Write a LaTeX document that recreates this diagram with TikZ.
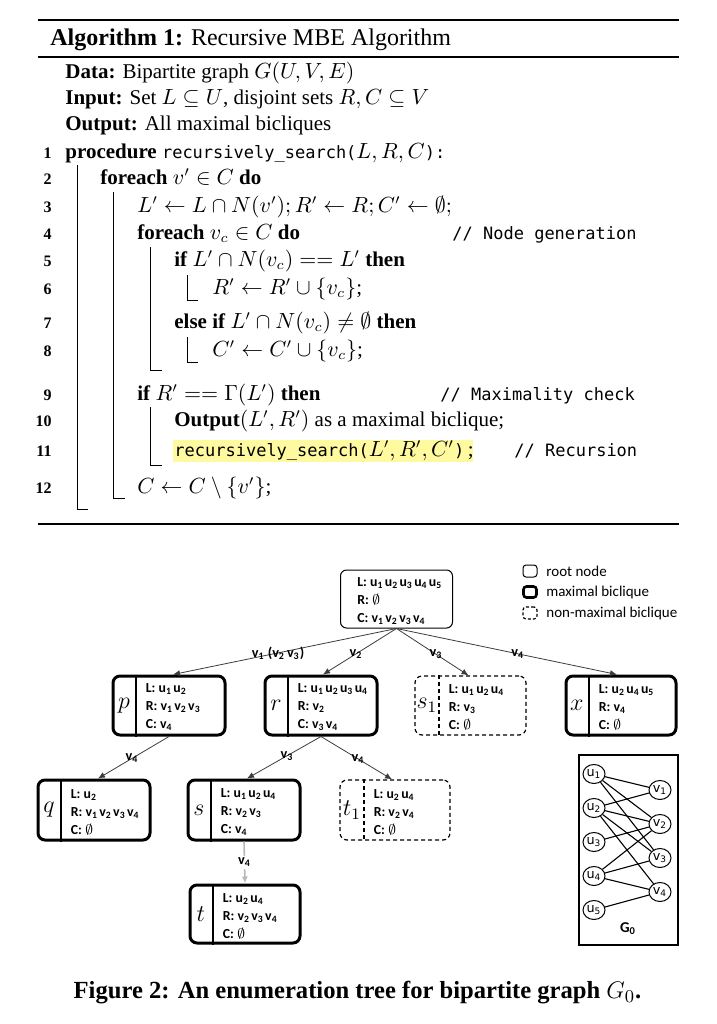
\documentclass[tikz,border=0pt]{standalone}
\usepackage{fontspec}
\setmainfont{Liberation Serif}
\newfontfamily\cali{Carlito}
\newfontfamily\monof{DejaVu Sans Mono}
\newfontfamily\dvs{DejaVu Sans}
\usetikzlibrary{arrows.meta,shapes.geometric}
\definecolor{hl}{RGB}{255,250,160}
\definecolor{edgec}{RGB}{60,60,60}
\newcommand\ssub[1]{\textsubscript{#1}}
\newcommand\U[1]{u\textsubscript{#1}\kern0.7pt}
\newcommand\V[1]{v\textsubscript{#1}\kern0.7pt}
\newcommand\mt[1]{{\monof\fontsize{8.5}{10}\selectfont #1}}
\newcommand\infofont{\cali\bfseries\fontsize{6.9}{9}\selectfont}
\newcommand\bnode[8]{%
  \node[#2, minimum width=#5*0.5pt, minimum height=#6*0.5pt] (#1) at (#3,#4) {};
  \draw[#2 div] ([xshift=12.3pt]#1.north west) -- ([xshift=12.3pt]#1.south west);
  \node[letter] (#1-l) at ([xshift=6.2pt]#1.west) {$#7$};
  \node[info] (#1-t) at ([xshift=17pt,yshift=-1pt]#1.west) {#8};
}
\begin{document}
\begin{tikzpicture}[x=0.5pt,y=-0.5pt,
  alg/.style={anchor=base west, inner sep=0pt, font=\fontsize{10.5}{12}\selectfont},
  lno/.style={anchor=base east, inner sep=0pt, font=\bfseries\fontsize{8}{10}\selectfont},
  bar/.style={line width=0.5pt},
  rootbox/.style={draw, line width=0.5pt, rounded corners=3pt, inner sep=0pt},
  maxbox/.style={draw, line width=1.5pt, rounded corners=3.5pt, inner sep=0pt},
  maxbox div/.style={line width=1pt},
  nonmax/.style={draw, line width=0.6pt, dash pattern=on 2pt off 1.5pt, rounded corners=3.5pt, inner sep=0pt},
  nonmax div/.style={line width=0.6pt, dash pattern=on 2pt off 1.5pt},
  letter/.style={inner sep=0pt, font=\fontsize{12}{12}\selectfont},
  info/.style={anchor=west, align=left, inner sep=0pt, font=\infofont},
  edge/.style={draw=edgec, line width=0.4pt, -{Latex[length=3.5pt,width=3pt]}},
  elabel/.style={inner sep=0.3pt, font=\cali\bfseries\fontsize{7.1}{8}\selectfont},
  legtext/.style={anchor=west, inner sep=0pt, font=\cali\fontsize{7.5}{8}\selectfont},
  gv/.style={draw, ellipse, line width=0.5pt, minimum width=11pt, minimum height=9.5pt, inner sep=0pt, font=\dvs\fontsize{6.4}{7}\selectfont},
  gedge/.style={line width=0.55pt}
]
\useasboundingbox (0,0) rectangle (717,1024);
% ---------------- Algorithm ----------------
\draw[line width=1pt] (38,20) -- (679,20);
\draw[line width=0.7pt] (38,57) -- (679,57);
\draw[line width=1pt] (38,524) -- (679,524);
\fill[hl] (173,440) rectangle (473,462);
\node[anchor=base west, inner sep=0pt, font=\fontsize{12}{14}\selectfont] (title) at (50,45) {\textbf{Algorithm 1:} Recursive MBE Algorithm};
\node[alg] (data) at (65,78) {\textbf{Data:} Bipartite graph $G(U,V,E)$};
\node[alg] (input) at (65,104) {\textbf{Input:} Set $L\subseteq U$, disjoint sets $R,C\subseteq V$};
\node[alg] (output) at (65,130) {\textbf{Output:} All maximal bicliques};
\node[lno] (n1) at (52,158) {1};
\node[alg] (l1) at (65,158) {\textbf{procedure} \mt{recursively\_search(}$L,R,C$\mt{):}};
\node[lno] (n2) at (52,184) {2};
\node[alg] (l2) at (100,184) {\textbf{foreach} $v'\in C$ \textbf{do}};
\node[lno] (n3) at (52,212) {3};
\node[alg] (l3) at (137,212) {$L'\leftarrow L\cap N(v'); R'\leftarrow R; C'\leftarrow\emptyset;$};
\node[lno] (n4) at (52,239) {4};
\node[alg] (l4) at (137,239) {\textbf{foreach} $v_c\in C$ \textbf{do}};
\node[alg] (c4) at (452,239) {\mt{// Node generation}};
\node[lno] (n5) at (52,266) {5};
\node[alg] (l5) at (174,266) {\textbf{if} $L'\cap N(v_c) == L'$ \textbf{then}};
\node[lno] (n6) at (52,294) {6};
\node[alg] (l6) at (212,294) {$R'\leftarrow R'\cup\{v_c\}$;};
\node[lno] (n7) at (52,328) {7};
\node[alg] (l7) at (174,328) {\textbf{else if} $L'\cap N(v_c)\neq\emptyset$ \textbf{then}};
\node[lno] (n8) at (52,356) {8};
\node[alg] (l8) at (212,356) {$C'\leftarrow C'\cup\{v_c\}$;};
\node[lno] (n9) at (52,400) {9};
\node[alg] (l9) at (137,400) {\textbf{if} $R' == \Gamma(L')$ \textbf{then}};
\node[alg] (c9) at (440,400) {\mt{// Maximality check}};
\node[lno] (n10) at (52,426) {10};
\node[alg] (l10) at (174,426) {\textbf{Output}$(L',R')$ as a maximal biclique;};
\node[lno] (n11) at (52,456) {11};
\node[alg] (l11) at (174,456) {\mt{recursively\_search(}$L',R',C'$\mt{)}\,;};
\node[alg] (c11) at (514,456) {\mt{// Recursion}};
\node[lno] (n12) at (52,493) {12};
\node[alg] (l12) at (137,493) {$C\leftarrow C\setminus\{v'\}$;};
\draw[bar] (77,165) -- (77,509) -- (88,509);
\draw[bar] (113,192) -- (113,498) -- (125,498);
\draw[bar] (150,247) -- (150,370) -- (162,370);
\draw[bar] (187,275) -- (187,300) -- (198,300);
\draw[bar] (187,337) -- (187,362) -- (198,362);
\draw[bar] (150,407) -- (150,465) -- (162,465);
% ---------------- Tree ----------------
\node[rootbox, minimum width=56pt, minimum height=29pt] (root) at (396.5,599) {};
\node[info] (root-t) at ([xshift=8.5pt,yshift=-1pt]root.west) {L: \U1\U2\U3\U4\U5\\R: $\emptyset$\\C: \V1\V2\V3\V4};
\bnode{p}{maxbox}{169}{705.5}{112}{59}{p}{L: \U1\U2\\R: \V1\V2\V3\\C: \V4}
\bnode{r}{maxbox}{321}{705.5}{112}{59}{r}{L: \U1\U2\U3\U4\\R: \V2\\C: \V3\V4}
\bnode{s1}{nonmax}{470.5}{705.5}{111}{59}{s_1}{L: \U1\U2\U4\\R: \V3\\C: $\emptyset$}
\bnode{x}{maxbox}{621}{705.5}{110}{59}{x}{L: \U2\U4\U5\\R: \V4\\C: $\emptyset$}
\bnode{q}{maxbox}{94}{810}{112}{60}{q}{L: \U2\\R: \V1\V2\V3\V4\\C: $\emptyset$}
\bnode{s}{maxbox}{244}{810}{112}{60}{s}{L: \U1\U2\U4\\R: \V2\V3\\C: \V4}
\bnode{t1}{nonmax}{395}{810}{110}{60}{t_1}{L: \U2\U4\\R: \V2\V4\\C: $\emptyset$}
\bnode{t}{maxbox}{245}{914}{110}{58}{t}{L: \U2\U4\\R: \V2\V3\V4\\C: $\emptyset$}
\draw[edge] (root.south) -- node[elabel,pos=0.53] (e1) {v\ssub{1} (v\ssub{2}\kern1pt v\ssub{3})} ([xshift=2pt]p.north);
\draw[edge] (root.south) -- node[elabel,pos=0.55] (e2) {v\ssub{2}} ([xshift=1pt]r.north);
\draw[edge] (root.south) -- node[elabel,pos=0.55] (e3) {v\ssub{3}} ([xshift=-1pt]s1.north);
\draw[edge] (root.south) -- node[elabel,pos=0.55] (e4) {v\ssub{4}} ([xshift=-2pt]x.north);
\draw[edge] (p.south) -- node[elabel,pos=0.52] (e5) {v\ssub{4}} ([xshift=2pt]q.north);
\draw[edge] (r.south) -- node[elabel,pos=0.46] (e6) {v\ssub{3}} ([xshift=1.5pt]s.north);
\draw[edge] (r.south) -- node[elabel,pos=0.52] (e7) {v\ssub{4}} ([xshift=-1.5pt]t1.north);
\draw[draw=gray!55, line width=0.8pt, -{Latex[length=3.5pt,width=3pt]}] (s.south) -- node[elabel,pos=0.5,fill=white,inner sep=1pt] (e8) {v\ssub{4}} (t.north);
% ---------------- Legend ----------------
\node[rootbox, minimum width=7pt, minimum height=6pt, rounded corners=1.5pt] (lg1) at (530,571) {};
\node[legtext] (lt1) at (546,571) {root node};
\node[maxbox, line width=1.3pt, minimum width=6.5pt, minimum height=5.5pt, rounded corners=1.5pt] (lg2) at (530,592) {};
\node[legtext] (lt2) at (546,592) {maximal biclique};
\node[nonmax, dash pattern=on 1.5pt off 1pt, minimum width=7pt, minimum height=6pt, rounded corners=1.5pt] (lg3) at (530,613) {};
\node[legtext] (lt3) at (546,613) {non-maximal biclique};
% ---------------- G0 ----------------
\node[draw, line width=0.6pt, minimum width=49.5pt, minimum height=95pt, inner sep=0pt] (g0box) at (628.5,850) {};
\foreach \i/\yy in {1/774,2/808,3/842,4/876,5/910}{
  \node[gv] (u\i) at (594,\yy) {u\ssub{\i}};
}
\foreach \i/\yy in {1/790,2/824,3/858,4/892}{
  \node[gv] (v\i) at (660,\yy) {v\ssub{\i}};
}
\foreach \a/\b in {1/1,1/2,1/3,2/1,2/2,2/3,2/4,3/2,4/2,4/3,4/4,5/4}{
  \draw[gedge] (u\a) -- (v\b);
}
\node[inner sep=0pt, font=\cali\bfseries\fontsize{7.5}{9}\selectfont] (g0l) at (628,929) {G\ssub{0}};
% ---------------- Caption ----------------
\node[inner sep=0pt, font=\bfseries\fontsize{12.3}{14}\selectfont] (cap) at (357.5,993) {Figure 2: An enumeration tree for bipartite graph $G_0$.};
\end{tikzpicture}
\end{document}
